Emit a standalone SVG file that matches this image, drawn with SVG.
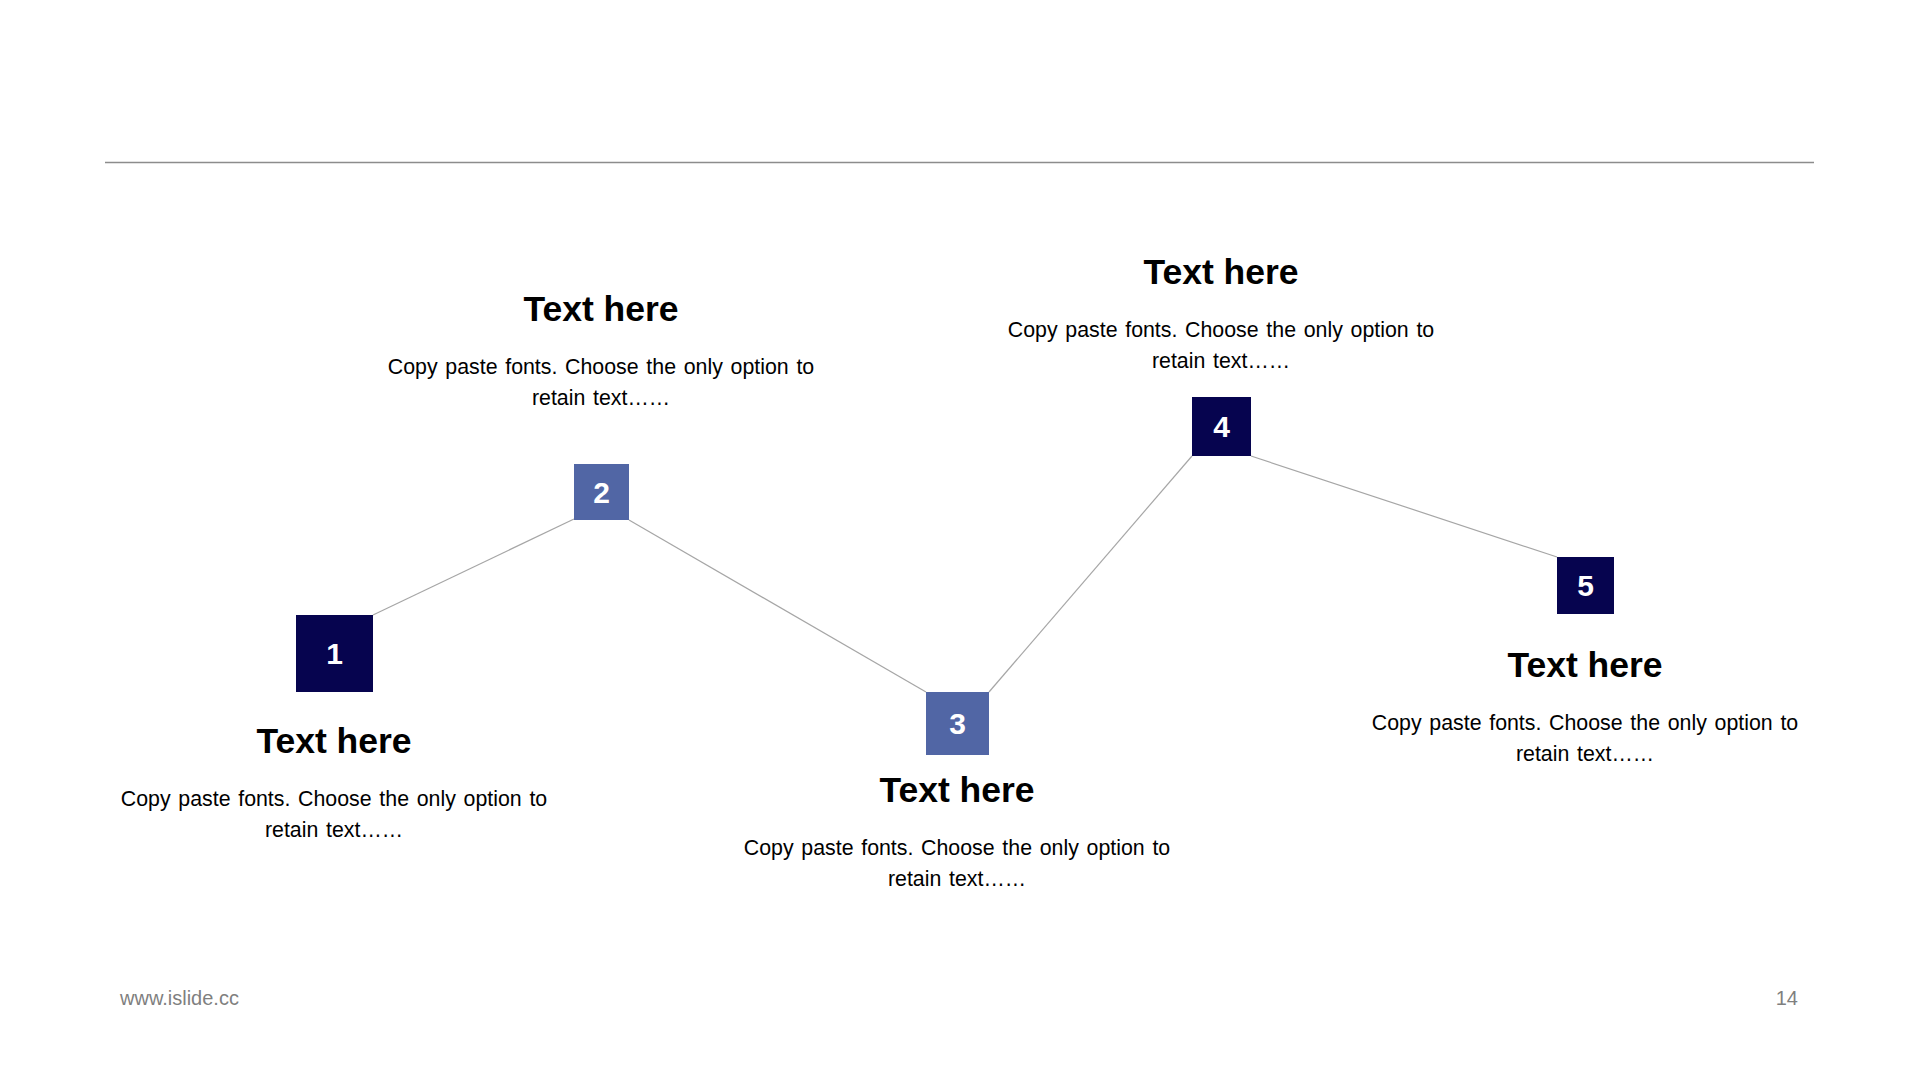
<svg xmlns="http://www.w3.org/2000/svg" width="1920" height="1080" viewBox="0 0 1920 1080">
<style>
.title{font-family:"Liberation Sans",Arial,sans-serif;font-weight:bold;font-size:35.5px;fill:#000;text-anchor:middle}
.body{font-family:"Liberation Sans",Arial,sans-serif;font-size:21.33px;fill:#000;text-anchor:middle;word-spacing:1.8px}
.num{font-family:"Liberation Sans",Arial,sans-serif;font-weight:bold;font-size:30px;fill:#fff;text-anchor:middle}
.dark{fill:#06044F}
.mid{fill:#5166A5}
.conn{stroke:#A6A6A6;stroke-width:1.2;fill:none}
.foot{font-family:"Liberation Sans",Arial,sans-serif;font-size:20px;fill:#7F7F7F}
</style>
<rect width="1920" height="1080" fill="#fff"/>
<line x1="105" y1="162.5" x2="1814" y2="162.5" stroke="#8C8C8C" stroke-width="1.5"/>
<g id="connectors">
<line class="conn" x1="373" y1="615" x2="574" y2="519"/>
<line class="conn" x1="629" y1="520" x2="926" y2="692"/>
<line class="conn" x1="989" y1="692" x2="1192" y2="456"/>
<line class="conn" x1="1251" y1="456" x2="1557" y2="557" stroke="#C4C4C4"/>
</g>
<g id="node1">
<rect class="dark" x="296" y="615" width="77" height="77"/>
<text class="num" x="334.5" y="664">1</text>
<text class="title" x="334" y="753">Text here</text>
<text class="body" x="334" y="806">Copy paste fonts. Choose the only option to</text>
<text class="body" x="334" y="837">retain text……</text>
</g>
<g id="node2">
<rect class="mid" x="574" y="464" width="55" height="56"/>
<text class="num" x="601.5" y="503">2</text>
<text class="title" x="601" y="320.5">Text here</text>
<text class="body" x="601" y="373.5">Copy paste fonts. Choose the only option to</text>
<text class="body" x="601" y="404.5">retain text……</text>
</g>
<g id="node3">
<rect class="mid" x="926" y="692" width="63" height="63"/>
<text class="num" x="957.5" y="734">3</text>
<text class="title" x="957" y="802">Text here</text>
<text class="body" x="957" y="855">Copy paste fonts. Choose the only option to</text>
<text class="body" x="957" y="886">retain text……</text>
</g>
<g id="node4">
<rect class="dark" x="1192" y="397" width="59" height="59"/>
<text class="num" x="1221.5" y="437">4</text>
<text class="title" x="1221" y="284">Text here</text>
<text class="body" x="1221" y="337">Copy paste fonts. Choose the only option to</text>
<text class="body" x="1221" y="368">retain text……</text>
</g>
<g id="node5">
<rect class="dark" x="1557" y="557" width="57" height="57"/>
<text class="num" x="1585.5" y="596">5</text>
<text class="title" x="1585" y="677">Text here</text>
<text class="body" x="1585" y="730">Copy paste fonts. Choose the only option to</text>
<text class="body" x="1585" y="761">retain text……</text>
</g>
<text class="foot" x="120" y="1005">www.islide.cc</text>
<text class="foot" x="1798" y="1005" text-anchor="end">14</text>
</svg>
